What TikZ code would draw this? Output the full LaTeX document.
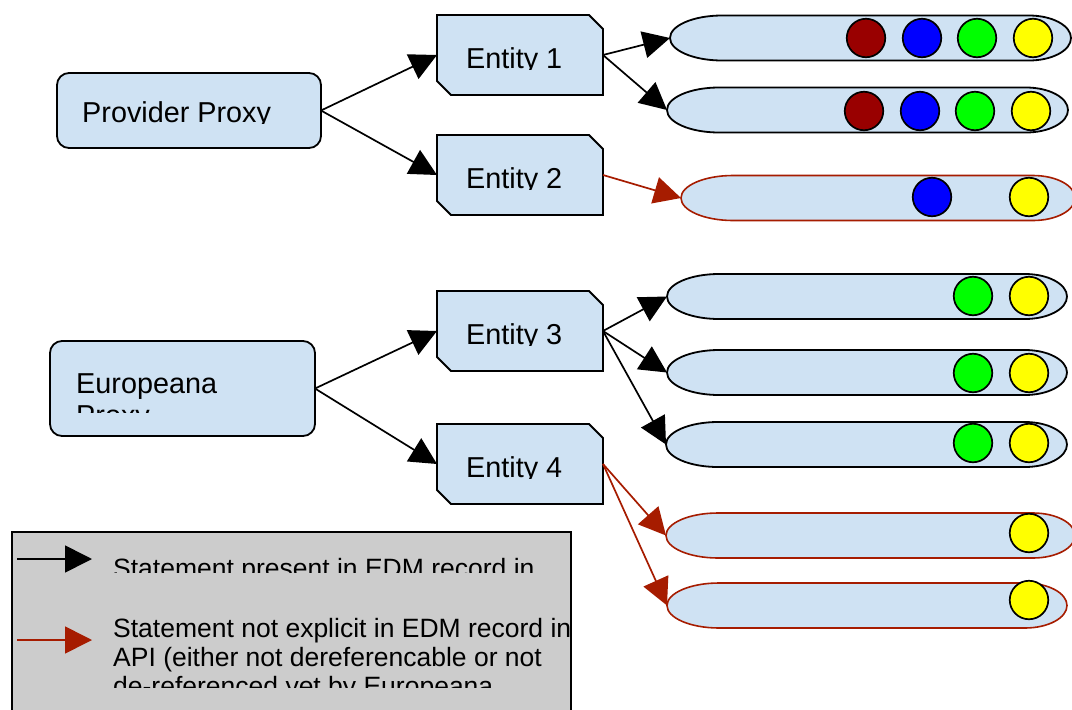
\documentclass[tikz,border=0pt]{standalone}
\usepackage{fontspec}
\setmainfont{Liberation Sans}
\usetikzlibrary{arrows.meta,calc}
\definecolor{boxfill}{HTML}{CFE2F3}
\definecolor{redline}{HTML}{A61C00}
\definecolor{legendfill}{HTML}{CCCCCC}
\definecolor{cdred}{HTML}{990000}
\definecolor{cblue}{HTML}{0000FF}
\definecolor{cgreen}{HTML}{00FF00}
\definecolor{cyellow}{HTML}{FFFF00}
\tikzset{
  proxybox/.style={draw, line width=1.8pt, fill=boxfill, rounded corners=12pt, inner sep=0pt, outer sep=0pt},
  frame/.style={rectangle, inner sep=0pt, outer sep=0pt, draw=none},
  outline/.style={draw, line width=1.8pt, fill=boxfill},
  redoutline/.style={draw=redline, line width=1.6pt, fill=boxfill},
  dot/.style={circle, draw, line width=1.7pt, minimum size=38.5pt, inner sep=0pt},
  conn/.style={line width=1.7pt, -{Triangle[length=27pt,width=27pt]}},
  redconn/.style={conn, color=redline},
  txt/.style={anchor=base west, inner sep=0pt, font=\fontsize{28.8}{32}\selectfont},
  legtxt/.style={anchor=base west, inner sep=0pt, font=\fontsize{26.5}{29.5}\selectfont},
}
\newcommand\entityoutline[1]{%
  \draw[outline] (#1.north west) -- ($(#1.north east)+(-14,0)$) -- ($(#1.north east)+(0,14)$)
    -- (#1.south east) -- ($(#1.south west)+(14,0)$) -- ($(#1.south west)+(0,-14)$) -- cycle;}
\newcommand\stadiumoutline[2]{%
  \draw[#2] ($(#1.north west)+(52,0)$) -- ($(#1.north east)+(-42,0)$)
    arc[start angle=90,end angle=-90,x radius=42pt,y radius=22.5pt]
    -- ($(#1.south west)+(52,0)$)
    arc[start angle=270,end angle=90,x radius=52pt,y radius=22.5pt] -- cycle;}
\begin{document}
\begin{tikzpicture}[x=1pt,y=-1pt]
\clip (0,0) rectangle (1072,710);
\fill[white] (0,0) rectangle (1072,710);

% proxies
\node[proxybox, minimum width=264pt, minimum height=75pt] (pp) at (189,110.5) {};
\node[proxybox, minimum width=265pt, minimum height=95pt] (ep) at (182.5,388.5) {};

% entities
\node[frame, minimum width=166pt, minimum height=80pt] (e1) at (520,55) {};
\node[frame, minimum width=166pt, minimum height=80pt] (e2) at (520,175) {};
\node[frame, minimum width=166pt, minimum height=80pt] (e3) at (520,331) {};
\node[frame, minimum width=166pt, minimum height=80pt] (e4) at (520,464) {};
\entityoutline{e1}
\entityoutline{e2}
\entityoutline{e3}
\entityoutline{e4}

% stadium shapes
\node[frame, minimum width=401pt, minimum height=45pt] (s1) at (870.5,38) {};
\node[frame, minimum width=401pt, minimum height=45pt] (s2) at (867.5,110) {};
\node[frame, minimum width=394pt, minimum height=45pt] (s3) at (878,198) {};
\node[frame, minimum width=400pt, minimum height=45pt] (s4) at (867,296.5) {};
\node[frame, minimum width=400pt, minimum height=45pt] (s5) at (867,372.5) {};
\node[frame, minimum width=401pt, minimum height=45pt] (s6) at (866.5,444.5) {};
\node[frame, minimum width=409pt, minimum height=45pt] (s7) at (870.5,535.5) {};
\node[frame, minimum width=400pt, minimum height=45pt] (s8) at (867,605.5) {};
\stadiumoutline{s1}{outline}
\stadiumoutline{s2}{outline}
\stadiumoutline{s3}{redoutline}
\stadiumoutline{s4}{outline}
\stadiumoutline{s5}{outline}
\stadiumoutline{s6}{outline}
\stadiumoutline{s7}{redoutline}
\stadiumoutline{s8}{redoutline}

% dots
\node[dot, fill=cdred] (d11) at (866,38) {};
\node[dot, fill=cblue] (d12) at (922,38) {};
\node[dot, fill=cgreen] (d13) at (977,38) {};
\node[dot, fill=cyellow] (d14) at (1033,38) {};
\node[dot, fill=cdred] (d21) at (864,111) {};
\node[dot, fill=cblue] (d22) at (920,111) {};
\node[dot, fill=cgreen] (d23) at (975,111) {};
\node[dot, fill=cyellow] (d24) at (1031,111) {};
\node[dot, fill=cblue] (d32) at (932,197) {};
\node[dot, fill=cyellow] (d34) at (1029,197) {};
\node[dot, fill=cgreen] (d43) at (973,296) {};
\node[dot, fill=cyellow] (d44) at (1029,296) {};
\node[dot, fill=cgreen] (d53) at (973,373) {};
\node[dot, fill=cyellow] (d54) at (1029,373) {};
\node[dot, fill=cgreen] (d63) at (973,443) {};
\node[dot, fill=cyellow] (d64) at (1029,443) {};
\node[dot, fill=cyellow] (d74) at (1029,533) {};
\node[dot, fill=cyellow] (d84) at (1029,600) {};

% connectors
\draw[conn] (pp.east) -- (e1.west);
\draw[conn] (pp.east) -- (e2.west);
\draw[conn] (ep.east) -- (e3.west);
\draw[conn] (ep.east) -- (e4.west);
\draw[conn] (e1.east) -- (s1.west);
\draw[conn] (e1.east) -- (s2.west);
\draw[redconn] (e2.east) -- (s3.west);
\draw[conn] (e3.east) -- (s4.west);
\draw[conn] (e3.east) -- (s5.west);
\draw[conn] (e3.east) -- (s6.west);
\draw[redconn] (e4.east) -- (s7.west);
\draw[redconn] (e4.east) -- (s8.west);

% texts (clipped as in the original)
\begin{scope}
  \clip (57,73) rectangle (321,123);
  \node[txt] (pptext) at (82,122) {Provider Proxy};
\end{scope}
\begin{scope}
  \clip (437,15) rectangle (603,69);
  \node[txt] (e1text) at (466,68) {Entity 1};
\end{scope}
\begin{scope}
  \clip (437,135) rectangle (603,189);
  \node[txt] (e2text) at (466,188) {Entity 2};
\end{scope}
\begin{scope}
  \clip (437,291) rectangle (603,345);
  \node[txt] (e3text) at (466,344) {Entity 3};
\end{scope}
\begin{scope}
  \clip (437,424) rectangle (603,478);
  \node[txt] (e4text) at (466,477) {Entity 4};
\end{scope}
\begin{scope}
  \clip (50,341) rectangle (315,412);
  \node[txt] (eptext1) at (76,393) {Europeana};
  \node[txt] (eptext2) at (76,425) {Proxy};
\end{scope}

% legend
\node[draw, line width=1.6pt, fill=legendfill, minimum width=559pt, minimum height=200pt,
      anchor=north west, inner sep=0pt, outer sep=0pt] (legend) at (12,532) {};
\coordinate (lba) at (17,559);
\coordinate (lbb) at (92,559);
\coordinate (lra) at (17,640);
\coordinate (lrb) at (92,640);
\draw[conn] (lba) -- (lbb);
\draw[redconn] (lra) -- (lrb);
\begin{scope}
  \clip (12,532) rectangle (580,572);
  \node[legtxt] (lt1) at (113,577) {Statement present in EDM record in};
\end{scope}
\begin{scope}
  \clip (12,600) rectangle (580,687);
  \node[legtxt] (lt2) at (113,637) {Statement not explicit in EDM record in};
  \node[legtxt] (lt3) at (113,666) {API (either not dereferencable or not};
  \node[legtxt] (lt4) at (113,695) {de-referenced yet by Europeana};
\end{scope}
\end{tikzpicture}
\end{document}
